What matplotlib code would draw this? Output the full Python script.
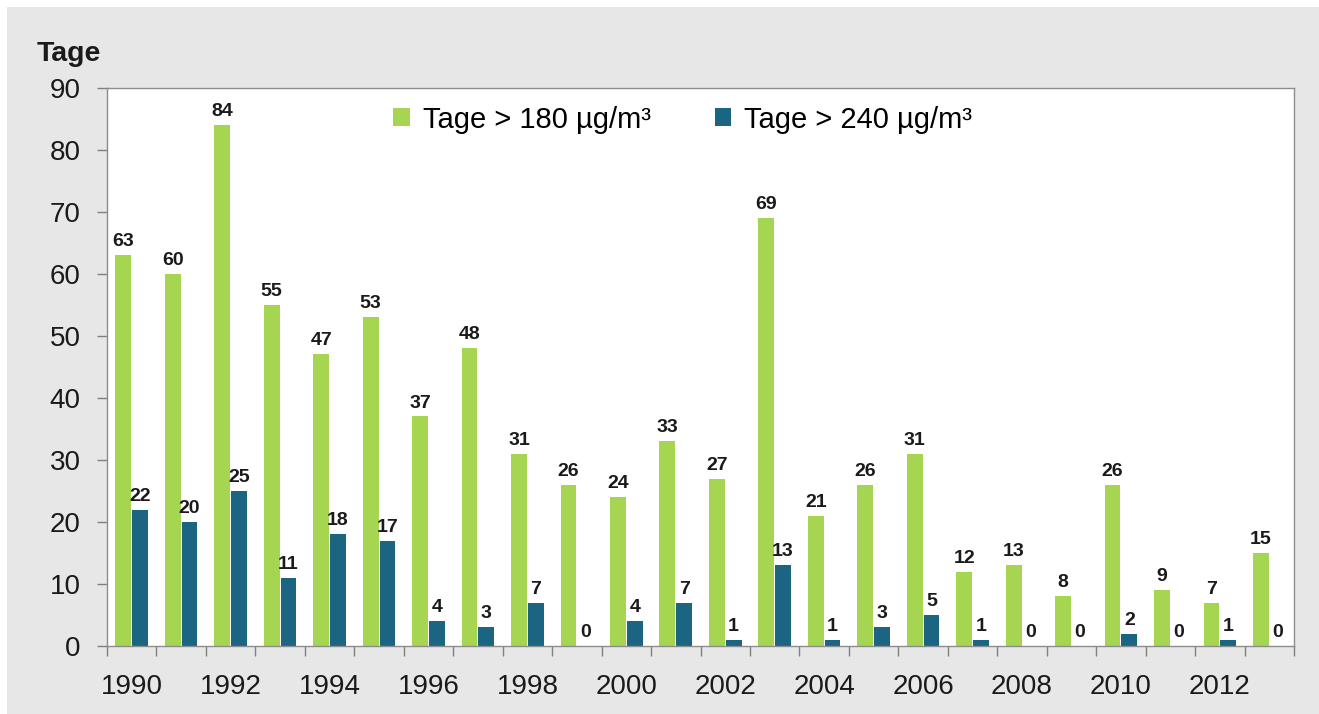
import matplotlib.pyplot as plt
from matplotlib.patches import Rectangle
import numpy as np

plt.rcParams['font.family'] = ['Liberation Sans', 'DejaVu Sans']

years = list(range(1990, 2014))
tage_180 = [63, 60, 84, 55, 47, 53, 37, 48, 31, 26, 24, 33, 27, 69, 21, 26, 31, 12, 13, 8, 26, 9, 7, 15]
tage_240 = [22, 20, 25, 11, 18, 17, 4, 3, 7, 0, 4, 7, 1, 13, 1, 3, 5, 1, 0, 0, 2, 0, 1, 0]
labels = ['Tage > 180 µg/m³', 'Tage > 240 µg/m³']

green = '#a6d651'
blue = '#1b6482'

fig = plt.figure(figsize=(13.19, 7.14), dpi=100)
fig.patch.set_facecolor('white')
# grey panel, leaving a thin white edge at top and left
fig.patches.append(Rectangle((7 / 1319, -0.1), 1.2, 1.1 - 7 / 714, transform=fig.transFigure,
                             facecolor='#e7e7e7', edgecolor='none', zorder=-1))

ax = fig.add_axes([0.0811, 0.0952, 0.9, 0.782])
ax.set_facecolor('white')

x = np.arange(len(years))
w = 0.32
b1 = ax.bar(x - w / 2 - 0.01, tage_180, w, color=green, label=labels[0])
b2 = ax.bar(x + w / 2 + 0.01, tage_240, w, color=blue, label=labels[1])

for bars in (b1, b2):
    for r in bars:
        ax.text(r.get_x() + r.get_width() / 2, r.get_height() + 0.8,
                '%d' % r.get_height(), ha='center', va='bottom',
                fontsize=14, fontweight='bold', color='#1a1a1a')

ax.set_xlim(-0.5, len(years) - 0.5)
ax.set_ylim(0, 90)
ax.set_yticks(range(0, 91, 10))
ax.set_xticks(x[::2])
ax.set_xticklabels([str(y) for y in years[::2]])
ax.set_xticks(np.arange(-0.5, len(years), 1), minor=True)
ax.tick_params(axis='x', which='major', length=0, labelsize=20, pad=20, colors='#1a1a1a')
ax.tick_params(axis='x', which='minor', length=7, width=1, color='#808080')
ax.tick_params(axis='y', length=7, width=1, color='#808080', labelsize=20,
               labelcolor='#1a1a1a', pad=12)

for s in ax.spines.values():
    s.set_color('#8c8c8c')
    s.set_linewidth(1)

fig.text(0.028, 0.915, 'Tage', fontsize=20.5, fontweight='bold', color='#1a1a1a')

ax.legend(loc='center', ncol=2, frameon=False, fontsize=21,
          bbox_to_anchor=(0.485, 0.943), handlelength=0.55, handleheight=0.55,
          columnspacing=2.2, handletextpad=0.45)

fig.savefig('out.png', dpi=100, facecolor=fig.get_facecolor())
